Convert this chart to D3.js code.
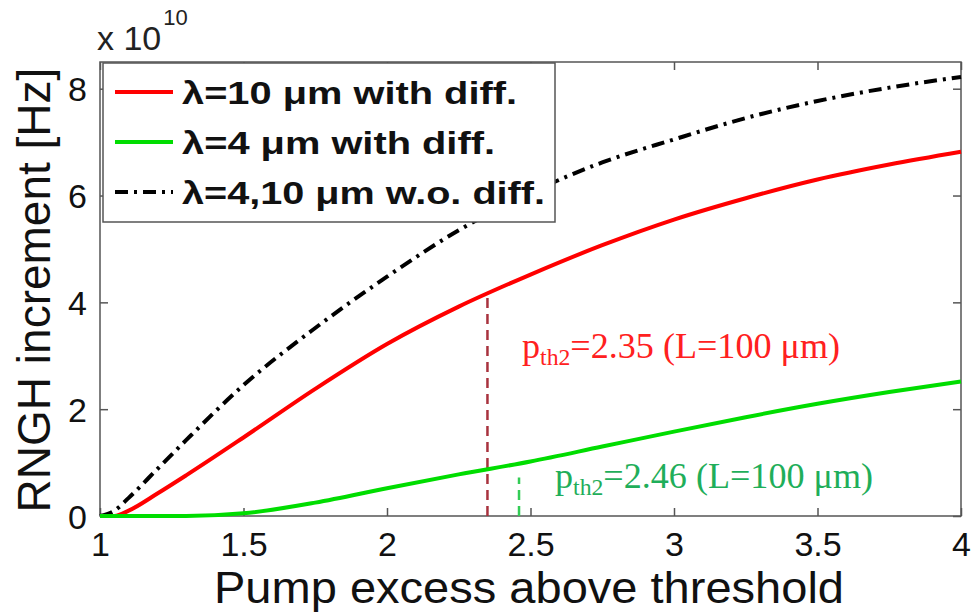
<!DOCTYPE html>
<html>
<head>
<meta charset="utf-8">
<script src="https://cdn.jsdelivr.net/npm/d3@7"></script>
<style>
  body { margin: 0; background: #fff; }
  text { font-family: "Liberation Sans", Arial, sans-serif; }
</style>
</head>
<body>
<script>
// data (values in units of 1e10 Hz)
var pump = [1.0, 1.05, 1.1, 1.2, 1.3, 1.5, 1.75, 2.0, 2.25, 2.5, 2.75, 3.0, 3.25, 3.5, 3.75, 4.0];
var red10 = [0, 0, 0.1, 0.42, 0.76, 1.47, 2.38, 3.22, 3.92, 4.52, 5.07, 5.55, 5.95, 6.3, 6.58, 6.82];
var green4 = [0, 0, 0, 0, 0, 0.05, 0.25, 0.52, 0.78, 1.02, 1.3, 1.58, 1.85, 2.1, 2.32, 2.52];
var noDiff = [0, 0.1, 0.34, 0.88, 1.42, 2.45, 3.52, 4.48, 5.35, 6.05, 6.62, 7.05, 7.45, 7.77, 8.02, 8.22];

var xTicks = [1, 1.5, 2, 2.5, 3, 3.5, 4];
var yTicks = [0, 2, 4, 6, 8];

var legendLabels = ["\u03bb=10 \u03bcm with diff.", "\u03bb=4 \u03bcm with diff.", "\u03bb=4,10 \u03bcm w.o. diff."];
var legendWidths = [335, 313, 363];

// threshold markers: x position, top of dashed line, label value
var thX = [2.35, 2.46];
var thTop = [4.17, 0.72];
var thLabel = ["2.35", "2.46"];

var width = 976,
    height = 616;

var svg = d3.select("body").append("svg")
    .attr("width", width)
    .attr("height", height);

var x = d3.scaleLinear().domain([1, 4]).range([100, 961]);
var y = d3.scaleLinear().domain([0, 8.5]).range([516, 62]);

var axisColor = "#555";

// axes box
svg.append("rect")
    .attr("x", x(1)).attr("y", y(8.5))
    .attr("width", x(4) - x(1)).attr("height", y(0) - y(8.5))
    .attr("fill", "none").attr("stroke", axisColor).attr("stroke-width", 1.5);

// inward ticks, MATLAB style
var axBottom = d3.axisBottom(x).tickValues(xTicks).tickSize(-8).tickFormat(d3.format("~g"));
var axTop = d3.axisTop(x).tickValues(xTicks).tickSize(-8).tickFormat("");
var axLeft = d3.axisLeft(y).tickValues(yTicks).tickSize(-8).tickFormat(d3.format("d"));
var axRight = d3.axisRight(y).tickValues(yTicks).tickSize(-8).tickFormat("");

function styleAxis(g) {
  g.select(".domain").remove();
  g.selectAll(".tick line").attr("stroke", axisColor).attr("stroke-width", 1.5);
  g.selectAll(".tick text").attr("fill", "#111")
      .style("font-family", "'Liberation Sans', Arial, sans-serif")
      .style("font-size", "34px");
}

svg.append("g").attr("transform", "translate(0," + y(0) + ")").call(axBottom).call(styleAxis)
    .selectAll(".tick text").attr("dy", "0").attr("y", 40);
svg.append("g").attr("transform", "translate(0," + y(8.5) + ")").call(axTop).call(styleAxis);
svg.append("g").attr("transform", "translate(" + x(1) + ",0)").call(axLeft).call(styleAxis)
    .selectAll(".tick text").attr("x", -13).attr("dy", "0.36em");
svg.append("g").attr("transform", "translate(" + x(4) + ",0)").call(axRight).call(styleAxis);

// exponent label
var expo = svg.append("text").attr("x", 97).attr("y", 50)
    .attr("fill", "#222").style("font-size", "34px");
expo.append("tspan").text("x 10");
expo.append("tspan").attr("dy", -25).attr("dx", 2).style("font-size", "22px").text("10");

// axis titles
svg.append("text")
    .attr("x", 529).attr("y", 603)
    .attr("text-anchor", "middle")
    .attr("fill", "#111")
    .attr("textLength", 630).attr("lengthAdjust", "spacingAndGlyphs")
    .style("font-size", "45px")
    .text("Pump excess above threshold");

svg.append("text")
    .attr("transform", "translate(50,290) rotate(-90)")
    .attr("text-anchor", "middle")
    .attr("fill", "#111")
    .style("font-size", "46px")
    .text("RNGH increment [Hz]");

// curves
var line = d3.line()
    .x(function(d) { return x(d[0]); })
    .y(function(d) { return y(d[1]); })
    .curve(d3.curveMonotoneX);

function pairs(vals) { return pump.map(function(p, i) { return [p, vals[i]]; }); }

var series = [
  { vals: noDiff, color: "#000", dash: "13,6,3,6" },
  { vals: red10, color: "#ff0000", dash: null },
  { vals: green4, color: "#00dd00", dash: null }
];

// threshold dashed markers
var markColors = ["#a8323e", "#33cc55"];
var textColors = ["#ff2020", "#1fae5a"];
thX.forEach(function(t, i) {
  svg.append("line")
      .attr("x1", x(t)).attr("x2", x(t))
      .attr("y1", y(0)).attr("y2", y(thTop[i]))
      .attr("stroke", markColors[i]).attr("stroke-width", 2.5)
      .attr("stroke-dasharray", "10,6");
});

series.forEach(function(s) {
  svg.append("path")
      .datum(pairs(s.vals))
      .attr("d", line)
      .attr("fill", "none")
      .attr("stroke", s.color)
      .attr("stroke-width", 4)
      .attr("stroke-dasharray", s.dash);
});

// annotations
var annX = [522, 555], annY = [358, 488];
thLabel.forEach(function(v, i) {
  var t = svg.append("text")
      .attr("x", annX[i]).attr("y", annY[i])
      .attr("fill", textColors[i])
      .attr("textLength", 318).attr("lengthAdjust", "spacingAndGlyphs")
      .style("font-family", "'Liberation Serif', 'Times New Roman', serif")
      .style("font-size", "35px");
  t.append("tspan").text("p");
  t.append("tspan").attr("dy", 7).style("font-size", "23px").text("th2");
  t.append("tspan").attr("dy", -7).text("=" + v + " (L=100 \u03bcm)");
});

// legend
var legend = svg.append("g");
legend.append("rect")
    .attr("x", 103).attr("y", 63).attr("width", 452).attr("height", 159)
    .attr("fill", "#fff").attr("stroke", axisColor).attr("stroke-width", 1.5);

var legendSeries = [series[1], series[2], series[0]];
legendLabels.forEach(function(lab, i) {
  var ly = 92 + i * 50;
  legend.append("line")
      .attr("x1", 115).attr("x2", 173).attr("y1", ly).attr("y2", ly)
      .attr("stroke", legendSeries[i].color).attr("stroke-width", 4)
      .attr("stroke-dasharray", legendSeries[i].dash);
  legend.append("text")
      .attr("x", 182).attr("y", ly + 12)
      .attr("fill", "#111")
      .attr("textLength", legendWidths[i]).attr("lengthAdjust", "spacingAndGlyphs")
      .style("font-size", "32px").style("font-weight", "bold")
      .text(lab);
});
</script>
</body>
</html>
